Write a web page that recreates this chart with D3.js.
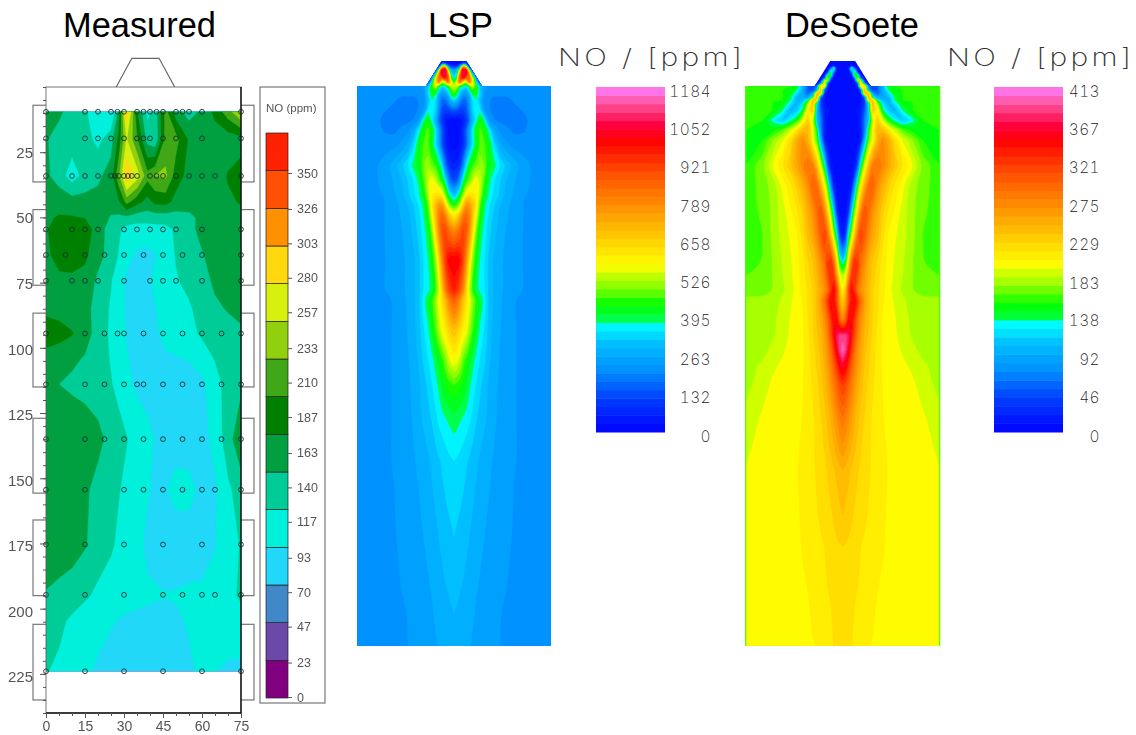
<!DOCTYPE html>
<html><head><meta charset="utf-8">
<script src="https://cdn.jsdelivr.net/npm/d3@7"></script>
<style>html,body{margin:0;padding:0;background:#fff}svg{display:block}</style>
</head><body><div id="c"></div>
<script>
// ---------- Measured data ----------
const measCols = [0,5,10,15,20,25,28,31,35,39,42,46,50,55,60,65,70,75];
const measRows = [9.5,20,34,44,50,54.5,64.5,74.3,85,94.5,104,114,135,154.5,175.5,195,205,224];
const measValues = [
 [150,145,128,120,100,90,145,280,165,110,125,195,150,130,145,170,200,235],
 [142,130,128,125,110,130,170,235,190,130,120,195,195,160,150,150,150,155],
 [145,128,105,125,135,150,205,280,245,195,210,215,175,155,150,152,165,172],
 [155,155,150,148,148,150,160,195,172,155,170,172,155,150,150,155,160,165],
 [160,165,165,162,152,138,135,135,128,128,128,128,130,135,145,150,155,158],
 [160,180,185,178,150,130,120,108,105,105,108,110,120,132,148,152,155,158],
 [158,172,175,168,148,130,115,100,90,88,92,105,118,125,138,150,155,158],
 [155,158,158,155,135,118,102,90,85,88,100,108,115,122,130,145,155,162],
 [158,155,150,148,130,114,102,91,85,84,92,102,108,114,125,135,142,148],
 [175,172,165,150,130,112,103,92,85,82,90,100,105,110,120,128,130,135],
 [155,150,145,138,128,115,107,95,88,83,85,90,92,95,105,118,128,135],
 [145,140,135,130,125,118,110,98,90,85,80,80,80,80,88,108,125,135],
 [158,160,160,158,148,130,125,118,105,100,92,88,85,82,85,100,130,158],
 [158,157,155,145,130,125,118,110,102,95,90,92,100,100,88,90,112,128],
 [155,155,150,142,128,120,112,105,98,90,88,85,82,82,82,92,108,118],
 [138,132,128,120,112,105,102,100,98,96,95,94,95,97,98,102,110,120],
 [128,122,112,105,100,95,92,90,89,88,88,88,90,95,99,102,104,108],
 [118,112,105,98,90,85,85,84,83,83,83,84,85,90,97,94,90,88]
];
const measPoints = [
 [9.5,[0,15,20,25,27.5,30,35,37.5,40,42.5,45,50,52.5,55,60,75]],
 [19.7,[0,15,20,25,30,35,37.5,40,45,50,60,75]],
 [34.1,[0,10,15,20,25,26.5,28,30,31.5,33,35,40,42.5,45,50,55,60,65,75]],
 [54.6,[0,10,15,20,30,35,40,45,50,60,75]],
 [64.4,[0,7.5,15,22.5,30,37.5,45,52.5,60,75]],
 [74.3,[0,10,15,20,30,40,45,50,60,75]],
 [94.5,[0,15,22.5,27.5,30,37.5,45,52.5,60,67.5,75]],
 [114,[0,15,22.5,30,35,37.5,45,52.5,60,67.5,75]],
 [135,[0,15,22.5,30,37.5,45,52.5,60,67.5,75]],
 [154.4,[0,15,30,37.5,45,52.5,60,65,75]],
 [175.4,[0,15,30,45,60,75]],
 [194.7,[0,15,30,45,52.5,60,65,75]],
 [224,[0,15,30,45,60,75]]
];
const measThresholds = [0,23.3,46.7,70,93.3,116.7,140,163.3,186.7,210,233.3,256.7,280,303.3,326.7];
const measColors = ["#800080","#6a48a8","#4088c8","#20d8f8","#00f0dc","#00cc98","#00a040","#008000","#40a818","#90d010","#d8f010","#ffd810","#ff9000","#ff5000","#ff2000"];
const measTicks = [0,23,47,70,93,117,140,163,187,210,233,257,280,303,326,350];
const axisYTicks = [25,50,75,100,125,150,175,200,225];
const axisXTicks = [0,15,30,45,60,75];
const bracketSpans = [[7,36.4],[47,76],[86.7,115],[127,155.7],[166,195],[206,235]];
const burnerShape = [[27,0],[33,-11],[43.5,-11],[49.5,0]];

// ---------- Simulated fields: half-width offset from the axis, mirrored ----------
const fieldCols = [0,3,6,9,12,15,18,22,26,30,35,40,46,52,60,70,80,97];
const nozzleShape = [[-97,646],[-97,86],[-28,86],[-12.5,61],[12.5,61],[28,86],[97,86],[97,646]];

const lspRows = [61,64,67,70,74,78,82,86,90,95,100,110,120,130,145,165,180,195,205,215,230,260,290,300,330,360,385,420,460,530,610,646];
const lspValues = [
 [0,0,0,0,0,0,0,0,0,0,0,0,0,0,0,0,0,0],
 [30,30,60,200,180,30,0,0,0,0,0,0,0,0,0,0,0,0],
 [120,150,300,750,650,150,20,0,0,0,0,0,0,0,0,0,0,0],
 [250,300,560,1050,1000,500,100,0,0,0,0,0,0,0,0,0,0,0],
 [310,360,780,1080,1040,780,380,30,0,0,0,0,0,0,0,0,0,0],
 [350,440,900,960,860,850,600,230,20,150,150,150,150,150,150,150,150,150],
 [420,620,820,600,520,800,640,360,100,230,230,230,230,230,230,230,230,230],
 [560,540,430,380,360,420,560,450,300,240,225,220,220,225,228,230,230,230],
 [500,450,350,300,280,340,450,450,320,240,220,210,210,212,220,228,230,230],
 [430,380,290,230,220,280,370,410,330,230,215,205,205,205,212,228,230,230],
 [340,300,220,170,170,240,340,370,300,220,205,195,195,195,205,225,230,230],
 [150,140,120,110,140,210,320,370,350,240,205,195,195,195,195,205,228,230],
 [20,20,30,60,100,170,280,360,430,380,235,205,195,190,190,195,215,230],
 [10,15,30,80,150,240,340,420,470,440,360,270,220,210,195,198,222,230],
 [20,20,40,80,150,260,340,410,470,470,420,340,270,240,222,222,230,230],
 [60,70,100,200,340,410,450,480,510,490,420,390,345,310,275,238,226,228],
 [130,150,240,370,430,480,530,570,540,470,390,350,320,290,265,236,228,228],
 [310,350,420,500,600,620,620,600,520,420,370,340,310,280,255,232,228,228],
 [440,470,530,650,760,760,700,610,470,390,350,320,290,270,248,230,228,228],
 [600,630,700,800,850,800,700,570,440,380,340,310,280,265,244,230,228,228],
 [780,810,850,900,880,790,660,500,400,365,330,300,275,260,242,230,228,228],
 [1010,1010,980,900,780,640,520,420,375,350,310,285,265,255,238,230,228,228],
 [960,930,880,780,660,540,470,385,370,350,310,285,265,255,236,230,228,228],
 [860,830,770,690,630,570,510,450,395,365,310,285,265,250,232,228,228,228],
 [690,670,640,600,570,520,470,410,370,345,305,280,262,250,232,228,228,228],
 [580,560,530,480,450,420,395,365,345,325,295,272,258,245,232,228,228,228],
 [460,450,440,430,410,385,365,345,325,305,285,268,255,245,232,228,228,228],
 [390,385,378,370,362,352,340,320,305,295,280,265,252,244,232,228,228,228],
 [347,343,338,330,322,315,305,295,285,275,265,258,250,244,232,228,228,228],
 [320,315,310,305,298,292,285,275,268,262,255,250,244,238,229,228,228,228],
 [290,287,283,280,275,270,265,258,253,248,243,237,232,229,228,228,228,228],
 [280,278,275,272,268,263,258,252,248,243,238,234,231,228,228,228,228,228]
];
const lspBarTicks = [0,132,263,395,526,658,789,921,1052,1184];
const lspMax = 1184;

const dsRows = [61,66,68,70.5,73,75.5,78,80.5,83,86,90,93.5,97,100,103,110,120,130,140,165,185,210,235,262,275,290,300,320,335,350,365,385,420,470,512,547,600,646];
const dsValues = [
 [0,0,0,0,0,0,0,0,0,0,0,0,0,0,0,0,0,0],
 [5,5,5,20,5,0,0,0,0,0,0,0,0,0,0,0,0,0],
 [5,5,15,135,50,0,0,0,0,0,0,0,0,0,0,0,0,0],
 [5,5,8,110,125,10,0,0,0,0,0,0,0,0,0,0,0,0],
 [5,5,5,50,150,60,0,0,0,0,0,0,0,0,0,0,0,0],
 [5,5,5,25,150,150,30,0,0,0,0,0,0,0,0,0,0,0],
 [5,5,5,10,70,175,60,0,0,0,0,0,0,0,0,0,0,0],
 [5,5,5,5,30,185,185,20,0,0,0,0,0,0,0,0,0,0],
 [5,5,5,5,12,60,215,70,0,0,0,0,0,0,0,0,0,0],
 [5,5,5,5,8,25,215,215,60,40,50,100,150,155,155,155,155,155],
 [5,5,5,5,5,12,50,240,90,45,55,95,135,152,155,155,155,155],
 [5,5,5,5,5,8,20,235,235,90,60,90,120,148,155,155,155,155],
 [5,5,5,5,5,5,12,70,245,130,90,95,105,140,155,155,155,155],
 [5,5,5,5,5,5,10,40,230,230,130,105,95,135,155,155,155,155],
 [5,5,5,5,5,6,12,40,130,240,170,120,100,125,150,155,155,155],
 [5,5,5,5,8,12,20,50,110,235,205,140,110,100,135,155,155,155],
 [5,5,5,5,5,10,20,70,110,190,230,190,150,130,110,130,155,155],
 [5,5,5,5,5,8,20,70,150,200,245,240,215,190,165,150,145,155],
 [5,5,5,5,5,8,20,100,165,200,250,270,250,220,195,175,155,150],
 [5,5,5,8,15,50,130,190,240,280,290,275,255,235,215,195,172,155],
 [5,5,8,20,80,150,200,250,290,300,270,250,230,215,200,180,170,158],
 [5,8,30,110,170,220,270,310,290,270,250,230,215,205,192,178,168,158],
 [15,40,130,180,240,290,320,300,275,255,240,220,205,198,190,178,165,158],
 [125,150,220,290,330,320,290,270,250,235,225,212,203,195,187,176,166,160],
 [180,200,260,320,330,310,280,262,245,232,222,211,202,194,186,176,168,165],
 [205,240,310,350,320,290,270,255,240,228,218,210,200,192,184,176,172,172],
 [230,255,310,345,350,320,290,260,240,228,218,208,200,195,188,180,178,177],
 [280,300,350,350,320,290,270,250,238,226,216,205,200,197,191,183,180,178],
 [385,385,370,340,310,280,262,245,235,224,214,205,200,198,192,184,180,178],
 [400,385,355,320,290,270,255,240,230,222,212,205,202,199,195,189,182,178],
 [365,350,325,300,280,262,250,236,228,220,212,205,203,200,198,194,188,180],
 [320,310,295,280,265,252,242,232,224,218,212,206,203,201,200,198,192,182],
 [285,278,268,258,248,240,232,226,220,215,210,207,204,202,201,200,198,190],
 [248,245,240,236,232,228,225,222,218,215,211,208,206,204,203,202,201,197],
 [238,235,232,229,226,224,222,219,216,213,210,208,205,203,202,201,201,198],
 [227,226,225,223,221,219,217,215,213,211,209,207,205,203,202,201,201,198],
 [223,222,220,219,217,216,214,212,210,208,206,205,204,203,202,201,201,198],
 [222,221,219,217,215,213,211,209,207,206,205,204,203,202,201,200,200,198]
];
const dsBarTicks = [0,46,92,138,183,229,275,321,367,413];
const dsMax = 413;

const lspBands = 41;
const dsBands = 40;
const cmapStops = [0,.1,.18,.26,.3,.318,.325,.33,.37,.405,.4375,.4625,.48,.51,.615,.75,.846,.89,.95,1];
const cmapColors = ["#0000ff","#0040ff","#0090ff","#00c0ff","#00f0ff","#00ffff","#00ffa0","#00ff40","#00ff00","#60ff00","#a8ff00","#d0ff00","#ffff00","#fff000","#ffaa00","#ff5000","#ff0000","#ff0040","#ff5098","#ff80ff"];

// ---------- drawing ----------
const W=1136,H=735;
const svg=d3.select("#c").append("svg").attr("width",W).attr("height",H).attr("viewBox",[0,0,W,H]);
const defs=svg.append("defs");
const blur=(id,s)=>defs.append("filter").attr("id",id).attr("x","-5%").attr("y","-5%").attr("width","110%").attr("height","110%")
   .append("feGaussianBlur").attr("stdDeviation",s);
blur("b1",0.55); blur("b2",0.4);

const cmap=d3.scaleLinear().domain(cmapStops).range(cmapColors);

function contourLayer(g,values,colsIdx,rowsIdx,thresholds,colorOf,xScale,yScale,smooth){
  const n=colsIdx.length,m=rowsIdx.length;
  const flat=values.flat();
  const xi=d3.scaleLinear().domain(colsIdx.map((_,i)=>i+.5)).range(colsIdx.map(xScale));
  const yi=d3.scaleLinear().domain(rowsIdx.map((_,i)=>i+.5)).range(rowsIdx.map(yScale));
  const ln=d3.line().x(p=>xi(p[0])).y(p=>yi(p[1])).curve(smooth?d3.curveCatmullRomClosed.alpha(.5):d3.curveLinearClosed);
  const pathOf=c=>c.coordinates.map(poly=>poly.map(ring=>ln(ring.slice(0,-1))).join("")).join("");
  const cs=d3.contours().size([n,m]).thresholds(thresholds)(flat);
  g.selectAll("path.band").data(cs).join("path").attr("class","band").attr("fill-rule","evenodd")
    .attr("d",pathOf).attr("fill",(d,i)=>colorOf(i)).attr("stroke",(d,i)=>colorOf(i)).attr("stroke-width",.3);
}

// ---- Titles ----
const titles=[["Measured",63,37],["LSP",428,37],["DeSoete",785,37]];
svg.selectAll("text.t").data(titles).join("text").attr("class","t")
  .attr("x",d=>d[1]).attr("y",d=>d[2]).text(d=>d[0])
  .attr("font-family","Liberation Sans, Arial").attr("font-size",34.4).attr("fill","#000");

// ---- Measured ----
const mx=d3.scaleLinear().domain([0,75]).range([46,241]);
const my=d3.scaleLinear().domain([0,240]).range([87,713]);
const mg=svg.append("g").attr("filter","url(#b1)");
mg.selectAll("rect.br").data(bracketSpans).join("rect").attr("class","br")
  .attr("x",mx(-5)).attr("width",mx(80)-mx(-5)).attr("y",d=>my(d[0])).attr("height",d=>my(d[1])-my(d[0]))
  .attr("fill","#fff").attr("stroke","#777").attr("stroke-width",1.2);
mg.append("path").attr("d",d3.line().x(d=>mx(d[0])).y(d=>my(d[1]))(burnerShape)).attr("fill","none").attr("stroke","#666").attr("stroke-width",1.2);
mg.append("rect").attr("x",mx(0)).attr("y",my(0)).attr("width",mx(75)-mx(0)).attr("height",my(240)-my(0)).attr("fill","#fff");
defs.append("clipPath").attr("id","mclip").append("rect").attr("x",mx(0)).attr("y",my(9.5)).attr("width",mx(75)-mx(0)).attr("height",my(224)-my(9.5));
const mf=mg.append("g").attr("clip-path","url(#mclip)");
contourLayer(mf,measValues,measCols,measRows,measThresholds,i=>measColors[i],mx,my,false);
const pts=measPoints.flatMap(r=>r[1].map(x=>[x,r[0]]));
mg.selectAll("circle.p").data(pts).join("circle").attr("class","p").attr("cx",d=>mx(d[0])).attr("cy",d=>my(d[1])).attr("r",2.4)
  .attr("fill","none").attr("stroke","#143030").attr("stroke-width",1).attr("opacity",.9);
mg.append("rect").attr("x",mx(0)).attr("y",my(0)).attr("width",mx(75)-mx(0)).attr("height",my(240)-my(0)).attr("fill","none").attr("stroke","#555").attr("stroke-width",.8);
mg.append("line").attr("x1",mx(75)).attr("x2",mx(75)).attr("y1",my(0)).attr("y2",my(240)).attr("stroke","#111").attr("stroke-width",1.4);
mg.append("line").attr("x1",mx(0)).attr("x2",mx(75)).attr("y1",my(240)).attr("y2",my(240)).attr("stroke","#111").attr("stroke-width",1.4);
const fontM="Liberation Sans, Arial";
const yMinor=mg.append("g").attr("transform",`translate(${mx(0)},0)`).call(d3.axisLeft(my).tickValues(d3.range(0,241,5)).tickSize(3).tickFormat(""));
const yMajor=mg.append("g").attr("transform",`translate(${mx(0)},0)`).call(d3.axisLeft(my).tickValues(axisYTicks).tickSize(6).tickPadding(7));
const xMinor=mg.append("g").attr("transform",`translate(0,${my(240)})`).call(d3.axisBottom(mx).tickValues(d3.range(0,76,5)).tickSize(3).tickFormat(""));
const xMajor=mg.append("g").attr("transform",`translate(0,${my(240)})`).call(d3.axisBottom(mx).tickValues(axisXTicks).tickSize(5).tickPadding(3));
[yMinor,yMajor,xMinor,xMajor].forEach(a=>{a.select(".domain").remove();a.selectAll("line").attr("stroke","#555");
  a.selectAll("text").attr("font-family",fontM).attr("font-size",15).attr("fill","#555");});
yMajor.selectAll("text").attr("dy",(d)=>`${0.32+(d/225)*0.22}em`);
xMajor.selectAll("text").attr("font-size",14).attr("dy","0.72em");

// measured legend
mg.append("rect").attr("x",260).attr("y",87).attr("width",65).attr("height",616).attr("fill","#fff").attr("stroke","#777").attr("stroke-width",1.2);
mg.append("text").attr("x",266).attr("y",112).text("NO (ppm)").attr("font-family",fontM).attr("font-size",11.5).attr("fill","#555");
const barY=d3.scaleLinear().domain([0,350]).range([698,133]);
const edges=[...measThresholds,350];
mg.selectAll("rect.mb").data(measColors).join("rect").attr("class","mb").attr("x",266).attr("width",22)
  .attr("y",(d,i)=>barY(edges[i+1])).attr("height",(d,i)=>barY(edges[i])-barY(edges[i+1]))
  .attr("fill",d=>d).attr("stroke","#222").attr("stroke-width",.7);
const tickY=d3.scaleLinear().domain([0,350]).range([697,173]);
const legAxis=mg.append("g").attr("transform","translate(288,0)").call(d3.axisRight(tickY).tickValues(measTicks).tickSize(4).tickPadding(5));
legAxis.select(".domain").remove();legAxis.selectAll("line").attr("stroke","#555");
legAxis.selectAll("text").attr("font-family",fontM).attr("font-size",12.5).attr("fill","#555");

// ---- simulated panels ----
function panel(id,cx,rows,values,maxV,bands,barX,barTicks,labelRight,headX,headLen){
  const sx=d3.scaleLinear().domain([-97,97]).range([cx-97,cx+97]);
  const sy=d3.scaleLinear().domain([0,735]).range([0,735]);
  const colsFull=[...fieldCols.slice(1).reverse().map(d=>-d),...fieldCols];
  const full=values.map(r=>[...r.slice(1).reverse(),...r]);
  defs.append("clipPath").attr("id",id).append("path").attr("d",d3.line().x(d=>sx(d[0])).y(d=>sy(d[1]))(nozzleShape)+"Z");
  const g=svg.append("g").attr("filter","url(#b2)");
  const inner=g.append("g").attr("clip-path",`url(#${id})`);
  const thr=d3.range(bands).map(i=>i*maxV/bands);
  contourLayer(inner,full,colsFull,rows,thr,i=>cmap((i+.5)/bands),sx,sy,true);
  // heading: wide, thin lettering
  svg.append("text").attr("transform",`translate(${headX},66) scale(1.25,1)`).text("NO / [ppm]")
    .attr("font-family","Inter, Roboto").attr("font-weight",200).attr("font-size",24).attr("fill","#333")
    .attr("textLength",headLen/1.25).attr("lengthAdjust","spacing");
  // colour bar
  const by=d3.scaleLinear().domain([0,maxV]).range([432,87]);
  const bg=svg.append("g");
  bg.selectAll("rect").data(d3.range(bands)).join("rect").attr("x",barX).attr("width",69)
    .attr("y",i=>by((i+1)*maxV/bands)).attr("height",i=>by(i*maxV/bands)-by((i+1)*maxV/bands)+.5)
    .attr("fill",i=>cmap((i+.5)/bands));
  const ly=d3.scaleLinear().domain([0,maxV]).range([436,91]);
  svg.selectAll("text.l"+id).data(barTicks).join("text").attr("class","l"+id)
    .attr("x",labelRight).attr("y",d=>ly(d)).attr("dy","0.36em").attr("text-anchor","end").text(d=>d)
    .attr("font-family","Inter, Roboto").attr("font-weight",200).attr("font-size",15.5).attr("letter-spacing",.4)
    .attr("fill","#222").style("font-variant-numeric","tabular-nums");
  return sx;
}
panel("lspClip",454,lspRows,lspValues,lspMax,lspBands,596,lspBarTicks,711,558,184);
const dx=panel("dsClip",842.7,dsRows,dsValues,dsMax,dsBands,994,dsBarTicks,1100,947,184);
svg.selectAll("line.edge").data([-97,97]).join("line").attr("class","edge")
  .attr("x1",d=>dx(d)).attr("x2",d=>dx(d)).attr("y1",86).attr("y2",646).attr("stroke","#50ff00").attr("stroke-width",1.2);
</script></body></html>
